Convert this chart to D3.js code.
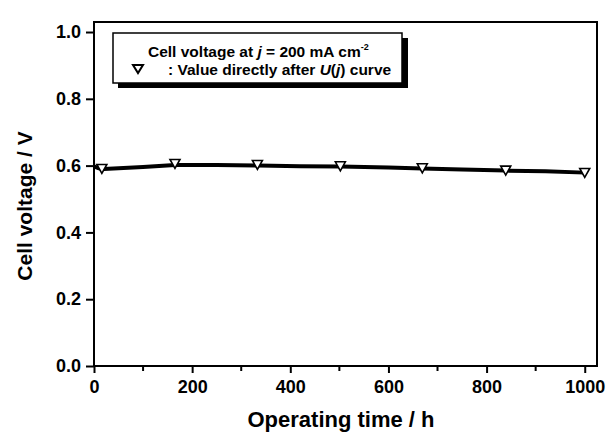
<!DOCTYPE html>
<html>
<head>
<meta charset="utf-8">
<script src="https://cdn.jsdelivr.net/npm/d3@7"></script>
<style>
  body { margin: 0; background: #fff; }
  text { font-family: "Liberation Sans", Arial, sans-serif; font-weight: bold; fill: #000; }
</style>
</head>
<body>
<div id="chart"></div>
<script>
// continuous voltage trace (time in h, voltage in V)
const line_time = [0, 10, 20, 100, 165, 250, 335, 420, 502, 600, 669, 750, 839, 920, 1000];
const line_volt = [0.598, 0.592, 0.590, 0.596, 0.602, 0.602, 0.600, 0.598, 0.597, 0.594, 0.591, 0.588, 0.585, 0.583, 0.579];

// values directly after U(j) curve
const marker_time = [16, 165, 333, 502, 669, 839, 1000];
const marker_volt = [0.590, 0.605, 0.602, 0.598, 0.592, 0.585, 0.578];

const x_ticks = [0, 200, 400, 600, 800, 1000];
const x_minor = [100, 300, 500, 700, 900];
const y_ticks = [0.0, 0.2, 0.4, 0.6, 0.8, 1.0];

const x_title = "Operating time / h";
const y_title = "Cell voltage / V";

const W = 606, H = 435;
const svg = d3.select("#chart").append("svg").attr("width", W).attr("height", H);

const m = {left: 94, right: 597, top: 22, bottom: 366};

const x = d3.scaleLinear().domain([0, 1025]).range([m.left, m.right]);
const y = d3.scaleLinear().domain([0, 1.03]).range([m.bottom, m.top]);

// frame
svg.append("rect")
    .attr("x", m.left).attr("y", m.top)
    .attr("width", m.right - m.left).attr("height", m.bottom - m.top)
    .attr("fill", "none").attr("stroke", "#000").attr("stroke-width", 2);

// x axis
const xAxis = svg.append("g").attr("transform", `translate(0,${m.bottom})`)
    .call(d3.axisBottom(x).tickValues(x_ticks).tickSize(7).tickPadding(7).tickFormat(d3.format("d")));
xAxis.select(".domain").remove();
xAxis.selectAll("line").attr("stroke-width", 2);
xAxis.selectAll("text").style("font-size", "18px").style("font-family", null);

svg.append("g").selectAll("line").data(x_minor).enter().append("line")
    .attr("x1", d => x(d)).attr("x2", d => x(d))
    .attr("y1", m.bottom).attr("y2", m.bottom + 5)
    .attr("stroke", "#000").attr("stroke-width", 2);

// y axis
const yAxis = svg.append("g").attr("transform", `translate(${m.left},0)`)
    .call(d3.axisLeft(y).tickValues(y_ticks).tickSize(8).tickPadding(5).tickFormat(d3.format(".1f")));
yAxis.select(".domain").remove();
yAxis.selectAll("line").attr("stroke-width", 2);
yAxis.selectAll("text").style("font-size", "18px").style("font-family", null);

// axis titles
svg.append("text")
    .attr("x", 341).attr("y", 427)
    .attr("text-anchor", "middle")
    .style("font-size", "22px")
    .text(x_title);

svg.append("text")
    .attr("transform", "translate(32,206) rotate(-90)")
    .attr("text-anchor", "middle")
    .style("font-size", "21px")
    .text(y_title);

// voltage trace
const lineData = line_time.map((t, i) => ({t: t, v: line_volt[i]}));
svg.append("path")
    .datum(lineData)
    .attr("fill", "none")
    .attr("stroke", "#000")
    .attr("stroke-width", 4)
    .attr("stroke-linejoin", "round")
    .attr("d", d3.line().x(d => x(d.t)).y(d => y(d.v)));

// down triangles
function triangle(cx, cy, w, h) {
    return `M${cx - w / 2},${cy - h / 2}L${cx + w / 2},${cy - h / 2}L${cx},${cy + h / 2}Z`;
}
const markerData = marker_time.map((t, i) => ({t: t, v: marker_volt[i]}));
svg.append("g").selectAll("path").data(markerData).enter().append("path")
    .attr("d", d => triangle(x(d.t), y(d.v), 10, 9))
    .attr("fill", "#fff")
    .attr("stroke", "#000")
    .attr("stroke-width", 1.6);

// legend box with shadow
svg.append("rect")
    .attr("x", 118).attr("y", 38).attr("width", 290).attr("height", 50)
    .attr("fill", "#000");
svg.append("rect")
    .attr("x", 113).attr("y", 33).attr("width", 289).attr("height", 50)
    .attr("fill", "#fff").attr("stroke", "#000").attr("stroke-width", 1.5);

const l1 = svg.append("text").attr("x", 148).attr("y", 57).style("font-size", "15.5px");
l1.append("tspan").text("Cell voltage at ");
l1.append("tspan").style("font-style", "italic").text("j");
l1.append("tspan").text(" = 200 mA cm");
l1.append("tspan").attr("dy", -7).style("font-size", "9px").text("-2");

svg.append("path")
    .attr("d", triangle(138, 69, 10, 8))
    .attr("fill", "#fff").attr("stroke", "#000").attr("stroke-width", 2);

const l2 = svg.append("text").attr("x", 168).attr("y", 75).style("font-size", "15.5px");
l2.append("tspan").text(":  Value directly after ");
l2.append("tspan").style("font-style", "italic").text("U");
l2.append("tspan").text("(");
l2.append("tspan").style("font-style", "italic").text("j");
l2.append("tspan").text(") curve");
</script>
</body>
</html>
